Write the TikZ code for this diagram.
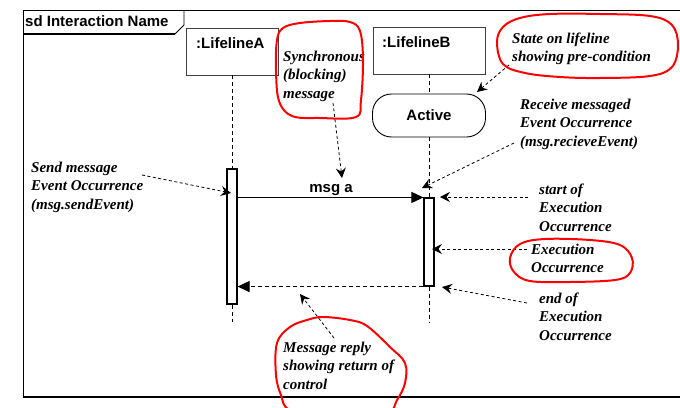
\documentclass[tikz,border=0pt]{standalone}
\usepackage{fontspec}
\setmainfont{Liberation Serif}
\setsansfont{Liberation Sans}
\usetikzlibrary{arrows.meta}

\tikzset{
  lbl/.style={font=\sffamily\bfseries\fontsize{15}{18}\selectfont, inner sep=0pt},
  note/.style={font=\rmfamily\bfseries\itshape\fontsize{15}{18.7}\selectfont,
               align=left, anchor=north west, inner sep=0pt},
  lifebox/.style={draw=black!75, line width=0.8pt, minimum height=47pt, inner sep=0pt},
  actbox/.style={draw, fill=white, line width=1.1pt, minimum width=10pt, inner sep=0pt},
  life/.style={line width=0.8pt, dash pattern=on 4pt off 3pt},
  callout/.style={line width=0.8pt, dash pattern=on 3pt off 2.5pt,
                  -{Stealth[length=10pt,width=10pt,inset=3.5pt]}},
  msgarrow/.style={line width=0.9pt, -{Triangle[length=12pt,width=11pt]}},
  replyarrow/.style={line width=0.9pt, dash pattern=on 4pt off 3pt,
                     -{Triangle[length=12pt,width=11pt]}},
  scribble/.style={red, line width=2pt, line join=round}
}

\begin{document}
\begin{tikzpicture}[x=1pt,y=-1pt]
\useasboundingbox (0,0) rectangle (680,407);

% interaction frame
\draw[line width=0.9pt] (680,10) -- (23,10) -- (23,397);
\draw[line width=1.6pt] (23,397) -- (680,397);

% name tab of the frame
\draw[line width=0.8pt] (184,10) -- (184,25) -- (175,34);
\draw[line width=1.8pt] (175,34) -- (23,34);
\node[lbl, anchor=base west] (title) at (25,26.5) {sd Interaction Name};

% lifeline heads
\node[lifebox, minimum width=92pt] (lA) at (232,51.5) {};
\node[lbl, anchor=base west] (lAname) at (196,48) {:LifelineA};
\node[lifebox, minimum width=112pt] (lB) at (429,50.5) {};
\node[lbl, anchor=base west] (lBname) at (382,47) {:LifelineB};

% state invariant on lifeline B
\node[lbl, draw, line width=0.9pt, rounded corners=19pt, minimum width=113pt,
      minimum height=43pt] (st) at (429,115.5) {Active};

% execution occurrences
\node[actbox, minimum height=135pt] (aA) at (232,236.5) {};
\node[actbox, minimum height=88pt] (aB) at (429,242) {};

% lifeline tails
\coordinate (endA) at (232,322);
\coordinate (endB) at (429,322);
\draw[life] (lA.south) -- (aA.north);
\draw[life] (aA.south) -- (endA);
\draw[life] (lB.south) -- (st.north);
\draw[life] (st.south) -- (aB.north);
\draw[life] (aB.south) -- (endB);

% synchronous message and its reply
\draw[msgarrow] (aA.east |- aB.north west) -- (aB.north west);
\node[lbl, anchor=base] (msg) at (331,192) {msg a};
\draw[replyarrow] (aB.south west) -- (aA.east |- aB.south west);

% annotations
\node[note] (nSync) at (283,50.5) {Synchronous\\(blocking)\\message};
\node[note] (nState) at (512,32.5) {State on lifeline\\showing pre-condition};
\node[note] (nRecv) at (520,98.5) {Receive messaged\\Event Occurrence\\(msg.recieveEvent)};
\node[note] (nSend) at (31,161.5) {Send message\\Event Occurrence\\(msg.sendEvent)};
\node[note] (nStart) at (539,183.5) {start of\\Execution\\Occurrence};
\node[note] (nExec) at (531,243.5) {Execution\\Occurrence};
\node[note] (nEnd) at (539,292.5) {end of\\Execution\\Occurrence};
\node[note] (nReply) at (283,341.5) {Message reply\\showing return of\\control};

% callout connectors
\coordinate (cSync0) at (333,103);   \coordinate (cSync1) at (342,178);
\coordinate (cState0) at (509,65);   \coordinate (cState1) at (477,92);
\coordinate (cRecv0) at (514,143);   \coordinate (cRecv1) at (422,188);
\coordinate (cSend0) at (142,175);   \coordinate (cSend1) at (231,193);
\coordinate (cStart0) at (528,197);  \coordinate (cStart1) at (440,197);
\coordinate (cExec0) at (527,249);   \coordinate (cExec1) at (432,249);
\coordinate (cEnd0) at (527,303);    \coordinate (cEnd1) at (442,287);
\coordinate (cReply0) at (334,338);  \coordinate (cReply1) at (300,294);
\draw[callout] (cSync0) -- (cSync1);
\draw[callout] (cState0) -- (cState1);
\draw[callout] (cRecv0) -- (cRecv1);
\draw[callout] (cSend0) -- (cSend1);
\draw[callout] (cStart0) -- (cStart1);
\draw[callout] (cExec0) -- (cExec1);
\draw[callout] (cEnd0) -- (cEnd1);
\draw[callout] (cReply0) -- (cReply1);

% red hand-drawn rings
\draw[scribble] plot[smooth cycle, tension=0.6] coordinates {
  (277,40) (283,28) (300,23) (330,21) (350,22) (360,31) (363,60) (361,100)
  (356,117) (320,118) (292,116) (279,101) (276,70)};
\draw[scribble] plot[smooth cycle, tension=0.6] coordinates {
  (497,42) (503,27) (520,18) (550,14) (600,14) (650,16) (672,25) (678,45)
  (672,67) (650,76) (600,78) (560,77) (525,73) (503,64)};
\draw[scribble] plot[smooth cycle, tension=0.6] coordinates {
  (510,258) (520,244) (545,239) (590,240) (620,245) (632,258) (630,273)
  (615,280) (570,282) (530,281) (514,272)};
\draw[scribble] plot[smooth cycle, tension=0.6] coordinates {
  (307,320) (323,317) (350,320) (367,326) (390,347) (405,363) (405,383)
  (397,400) (385,414) (330,418) (290,410) (281,395) (276,375) (277,343)
  (290,327)};
\end{tikzpicture}
\end{document}
